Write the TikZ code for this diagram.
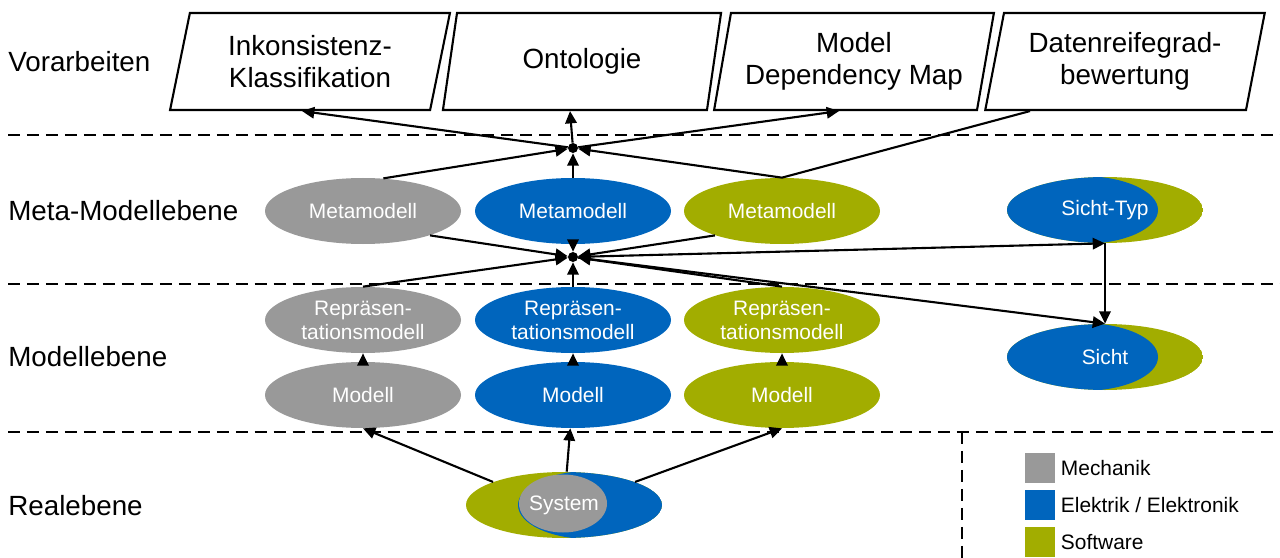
\documentclass[tikz,border=0pt]{standalone}
\usepackage{fontspec}
\setmainfont{Liberation Sans}
\usepackage{tikz}
\usetikzlibrary{arrows.meta,positioning,shapes.geometric,backgrounds}
\definecolor{tumGray}{HTML}{999999}
\definecolor{tumBlue}{HTML}{0065BD}
\definecolor{tumGreen}{HTML}{A2AD00}

\begin{document}
\begin{tikzpicture}[
    x=0.2mm, y=-0.2mm,
    every node/.style={font=\fontsize{11.9}{13.6}\selectfont},
    ebene/.style={anchor=west,inner sep=0pt,font=\fontsize{15.8}{18.1}\selectfont},
    vor/.style ={trapezium,trapezium left angle=75.5,trapezium right angle=104.5,
                 trapezium stretches=true,draw,fill=white,line width=1.2pt,
                 minimum width=5.6cm,minimum height=1.94cm,inner sep=0pt,
                 align=center,font=\fontsize{15.8}{18.1}\selectfont},
    mod/.style ={ellipse,minimum width=3.92cm,minimum height=1.32cm,inner sep=0pt,
                 text=white,align=center},
    hub/.style ={circle,fill=black,inner sep=0pt,minimum size=0.2cm},
    leg/.style ={rectangle,minimum size=0.6cm,inner sep=0pt},
    trenn/.style={line width=1.2pt,dash pattern=on 6.8pt off 4pt},
    arr/.style={-{Triangle[length=7pt,width=6.5pt]},line width=1.2pt}
  ]
  \useasboundingbox (0,0) rectangle (1280,558);
  %% Ebenen
  \node[ebene] (lvor)  at (8,62)  {Vorarbeiten};
  \node[ebene] (lmeta) at (8,211) {Meta-Modellebene};
  \node[ebene] (lmod)  at (8,357) {Modellebene};
  \node[ebene] (lreal) at (8,506) {Realebene};
  \draw[trenn] (8,135) -- (1280,135);
  \draw[trenn] (8,284) -- (1280,284);
  \draw[trenn] (8,432) -- (1280,432);
  \draw[trenn] (962,432) -- (962,558);
  %% Vorarbeiten
  \node[vor] (ink)   at (310,61.5)  {Inkonsistenz-\\Klassifikation};
  \node[vor] (onto)  at (582,61.5)  {Ontologie};
  \node[vor] (mdm)   at (854,61.5)  {Model\\Dependency Map};
  \node[vor] (daten) at (1125,61.5) {Datenreifegrad-\\bewertung};
  %% Meta-Modellebene
  \node[mod,fill=tumGray]  (metagray)  at (363,211) {Metamodell};
  \node[mod,fill=tumBlue]  (metablue)  at (573,211) {Metamodell};
  \node[mod,fill=tumGreen] (metagreen) at (782,211) {Metamodell};
  \node[mod] (sichttyp) at (1105,210) {Sicht-Typ};
  \node[hub] (hubo) at (573,148) {};
  \node[hub] (hubu) at (573,257) {};
  %% Modellebene
  \node[mod,fill=tumGray]  (reprgray)  at (363,320) {Repräsen-\\tationsmodell};
  \node[mod,fill=tumBlue]  (reprblue)  at (573,320) {Repräsen-\\tationsmodell};
  \node[mod,fill=tumGreen] (reprgreen) at (782,320) {Repräsen-\\tationsmodell};
  \node[mod,fill=tumGray]  (modgray)   at (363,395) {Modell};
  \node[mod,fill=tumBlue]  (modblue)   at (573,395) {Modell};
  \node[mod,fill=tumGreen] (modgreen)  at (782,395) {Modell};
  \node[mod] (sicht) at (1105,357) {Sicht};
  %% Realebene
  \node[mod] (system) at (564,505) {System};
  \begin{scope}[on background layer]
    \begin{scope}
      \clip (sichttyp.center) ellipse [x radius=1.96cm,y radius=0.66cm];
      \fill[tumGreen] (sichttyp.center) ellipse [x radius=1.96cm,y radius=0.66cm];
      \fill[tumBlue]  ([xshift=-0.46cm]sichttyp.center) ellipse [x radius=1.52cm,y radius=0.68cm];
    \end{scope}
    \begin{scope}
      \clip (sicht.center) ellipse [x radius=1.96cm,y radius=0.66cm];
      \fill[tumGreen] (sicht.center) ellipse [x radius=1.96cm,y radius=0.66cm];
      \fill[tumBlue]  ([xshift=-0.46cm]sicht.center) ellipse [x radius=1.52cm,y radius=0.68cm];
    \end{scope}
    \begin{scope}
      \clip (system.center) ellipse [x radius=1.96cm,y radius=0.66cm];
      \fill[tumGreen] (system.center) ellipse [x radius=1.96cm,y radius=0.66cm];
      \fill[tumBlue]  ([xshift=0.52cm]system.center) ellipse [x radius=1.44cm,y radius=0.68cm];
    \end{scope}
    \fill[tumGray]  ([xshift=-0.02cm,yshift=0.03cm]system.center) ellipse [x radius=0.88cm,y radius=0.58cm];
  \end{scope}
  %% Legende
  \node[leg,fill=tumGray]  (legm) at (1040,468) {};
  \node[leg,fill=tumBlue]  (lege) at (1040,505) {};
  \node[leg,fill=tumGreen] (legs) at (1040,542) {};
  \node[right=1pt of legm,inner sep=2pt] (tm) {Mechanik};
  \node[right=1pt of lege,inner sep=2pt] (te) {Elektrik / Elektronik};
  \node[right=1pt of legs,inner sep=2pt] (ts) {Software};
  %% Verbindungen oben
  \draw[arr] (metagray.58) -- (hubo);
  \draw[arr] (metablue) -- (hubo);
  \draw[arr] ([xshift=-1.9cm]daten.south) -- (metagreen.north) -- (hubo);
  \draw[arr] (hubo) -- ([xshift=-0.16cm]ink.south);
  \draw[arr] (hubo) -- ([xshift=-0.24cm]onto.south);
  \draw[arr] (hubo) -- ([xshift=-0.3cm]mdm.south);
  %% Verbindungen Mitte
  \draw[arr] (metagray.-20) -- (hubu);
  \draw[arr] (metablue) -- (hubu);
  \draw[arr] (metagreen.200) -- (hubu);
  \draw[arr] (reprgray.north) -- (hubu);
  \draw[arr] (reprblue) -- (hubu);
  \draw[arr] (reprgreen.north) -- (hubu);
  \draw[arr] (hubu) -- (sichttyp.south);
  \draw[arr] (hubu) -- (sicht.north);
  \draw[arr] (sichttyp.south) -- (sicht.north);
  %% Modell zu Repraesentation
  \draw[arr] (modgray) -- (reprgray);
  \draw[arr] (modblue) -- (reprblue);
  \draw[arr] (modgreen) -- (reprgreen);
  %% System
  \draw[arr] (system.162) -- (modgray.south);
  \draw[arr] (system) -- (modblue);
  \draw[arr] (system.18) -- (modgreen.south);
\end{tikzpicture}
\end{document}
